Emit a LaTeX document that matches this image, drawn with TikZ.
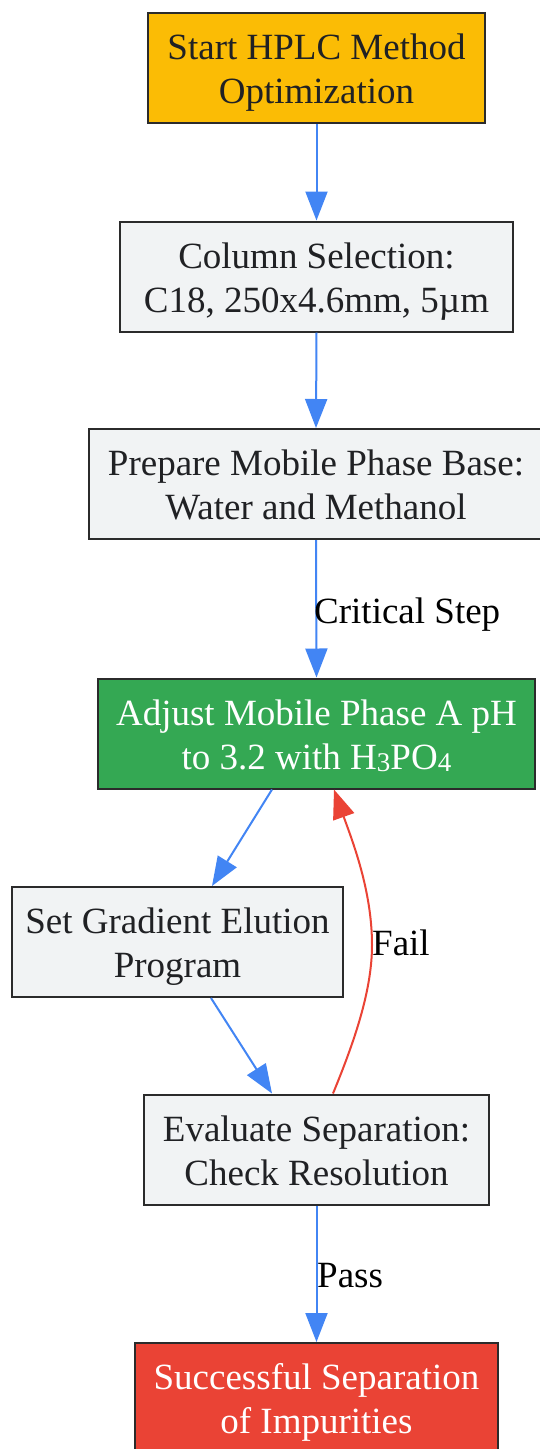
\documentclass[tikz,border=0pt]{standalone}
\usepackage{fontspec}
\setmainfont{Liberation Serif}
\usetikzlibrary{arrows.meta,calc}
\definecolor{gyellow}{HTML}{FBBC05}
\definecolor{ggreen}{HTML}{34A853}
\definecolor{gred}{HTML}{EA4335}
\definecolor{gblue}{HTML}{4285F4}
\definecolor{ggrey}{HTML}{F1F3F4}
\definecolor{gborder}{HTML}{2B2B2B}
\definecolor{gtext}{HTML}{202124}
\newcommand\smalldigit[1]{\raisebox{-2pt}{\fontsize{27pt}{27pt}\selectfont #1}}
\newcommand\tstrut{\rule{0pt}{36pt}}
\tikzset{
  box/.style={draw=gborder, line width=2pt, inner sep=0pt, align=center,
    minimum height=110pt, text=gtext,
    font=\fontsize{37pt}{44pt}\selectfont,
    execute at end node={\rule[-9pt]{0pt}{9pt}}},
  greybox/.style={box, fill=ggrey},
  flow/.style={draw=gblue, line width=2pt, -{Triangle[length=29pt,width=22pt]}},
  failflow/.style={draw=gred, line width=2pt, -{Triangle[length=29pt,width=22pt]}},
  elabel/.style={inner sep=0pt, anchor=base west, text=black,
    font=\fontsize{37pt}{44pt}\selectfont}
}
\begin{document}
\begin{tikzpicture}[x=1pt,y=1pt]
\useasboundingbox[fill=white] (0,0) rectangle (540,-1449);
\node[box, fill=gyellow, minimum width=337pt] (start) at (316.5,-68) {\tstrut Start HPLC Method\\Optimization};
\node[greybox, minimum width=393pt] (col) at (316.5,-276.5) {\tstrut Column Selection:\\C18, 250x4.6mm, 5µm};
\node[greybox, minimum width=454pt] (prep) at (316,-484) {\tstrut Prepare Mobile Phase Base:\\Water and Methanol};
\node[box, fill=ggreen, text=white, minimum width=437pt] (adj) at (316.5,-733.5) {\tstrut Adjust Mobile Phase A pH\\to 3.2 with H\smalldigit{3}PO\smalldigit{4}};
\node[greybox, minimum width=331pt] (grad) at (177.5,-942) {\tstrut Set Gradient Elution\\Program};
\node[greybox, minimum width=345pt] (eval) at (316.5,-1149.5) {\tstrut Evaluate Separation:\\Check Resolution};
\node[box, fill=gred, text=white, minimum width=363pt] (succ) at (316.5,-1398) {\tstrut Successful Separation\\of Impurities};

\draw[flow] (start.south) -- (col.north);
\draw[flow] (col.south) -- (prep.north);
\draw[flow] (prep.south) -- (adj.north);
\node[elabel] (lcrit) at (314,-623) {Critical Step};
\draw[flow] ($(adj.south)+(-44.5,0)$) -- ($(grad.north)+(34.5,0)$);
\draw[flow] ($(grad.south)+(33.5,0)$) -- ($(eval.north)+(-44.5,0)$);
\coordinate (failmid) at (372,-945);
\draw[failflow] ($(eval.north)+(16.5,0)$) .. controls (355,-1040) and (372,-990) .. (failmid)
  .. controls (372,-890) and (352,-840) .. ($(adj.south)+(17.5,0)$);
\node[elabel] (lfail) at (372,-955) {Fail};
\draw[flow] (eval.south) -- (succ.north);
\node[elabel] (lpass) at (317,-1287) {Pass};
\end{tikzpicture}
\end{document}
